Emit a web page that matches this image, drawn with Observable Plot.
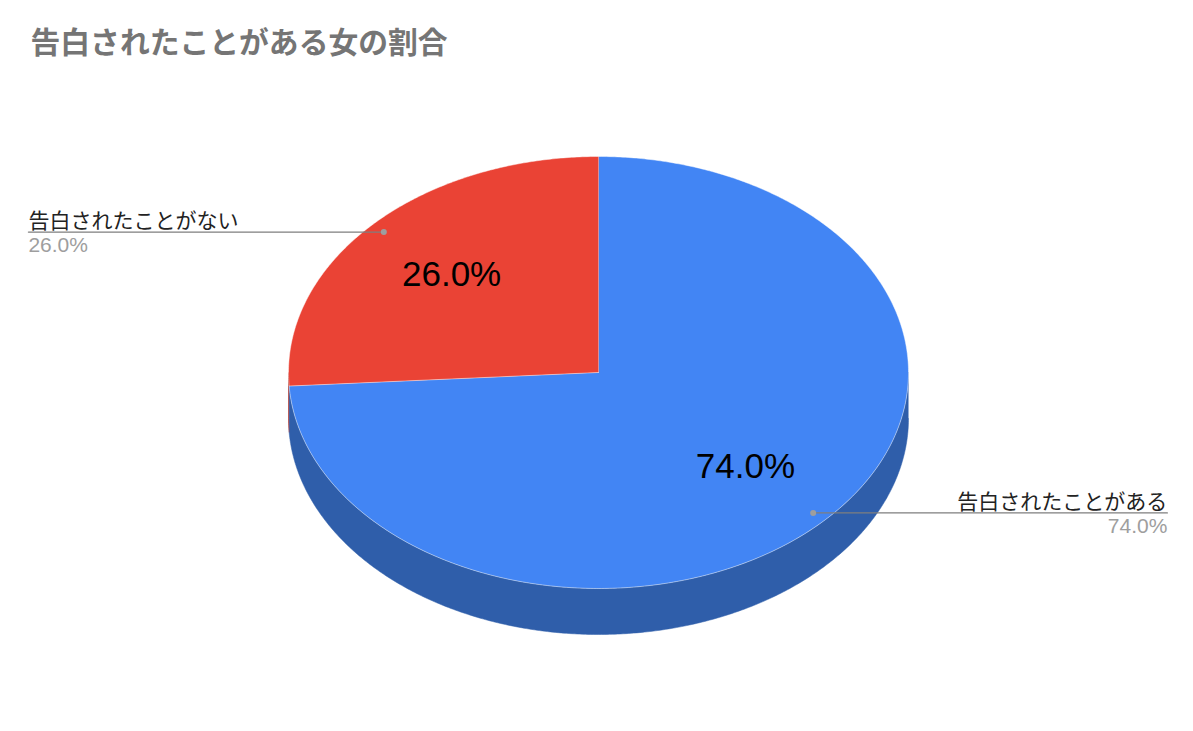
<!DOCTYPE html>
<html><head><meta charset="utf-8">
<script src="https://cdn.jsdelivr.net/npm/d3@7"></script>
<script src="https://cdn.jsdelivr.net/npm/@observablehq/plot@0.6"></script>
<style>body{margin:0;background:#fff;} #chart svg{display:block;}</style>
</head><body><div id="chart"></div>
<script>
const title = "告白されたことがある女の割合";
const categories = ["告白されたことがある", "告白されたことがない"];
const values = [74.0, 26.0];
const topColors = ["#4285f4", "#ea4335"];
const sideColors = ["#2f5eaa", "#a8302a"];

const FONT = "'Liberation Sans', Arial, 'Noto Sans CJK JP', sans-serif";
const depth = 0.213;          // pie thickness in y units
const step = Math.PI / 360;   // arc sampling
const total = d3.sum(values);

let acc = 0;
const slices = values.map((v, i) => {
  const a0 = acc / total * 2 * Math.PI;
  acc += v;
  const a1 = acc / total * 2 * Math.PI;
  return {i, name: categories[i], value: v, a0, a1, mid: (a0 + a1) / 2};
});
const px = (a, r = 1) => r * Math.sin(a);
const py = (a, r = 1) => r * Math.cos(a);
function arcPts(a0, a1) {
  const n = Math.max(2, Math.ceil((a1 - a0) / step));
  return d3.range(n + 1).map(k => a0 + (a1 - a0) * k / n);
}

const topPts = [], sidePts = [];
for (const s of slices) {
  topPts.push({z: s.i, x: 0, y: 0, c: topColors[s.i]});
  for (const a of arcPts(s.a0, s.a1)) topPts.push({z: s.i, x: px(a), y: py(a), c: topColors[s.i]});
  const b0 = Math.max(s.a0, Math.PI / 2), b1 = Math.min(s.a1, 3 * Math.PI / 2);
  if (b1 > b0) {
    const arc = arcPts(b0, b1);
    for (const a of arc) sidePts.push({z: s.i, x: px(a), y: py(a), c: sideColors[s.i]});
    for (const a of arc.slice().reverse()) sidePts.push({z: s.i, x: px(a), y: py(a) - depth, c: sideColors[s.i]});
  }
}

const labelEdge = [1.835, -1.839]; // outer label ends (x units)
const dots = slices.map(s => ({...s, x: px(s.mid, 0.95), y: py(s.mid, 0.95)}));
const leader = dots.flatMap(d => [{z: d.i, x: d.x, y: d.y}, {z: d.i, x: labelEdge[d.i], y: d.y}]);
const outer = dots.map(d => ({...d, ex: labelEdge[d.i]}));
const outerR = outer.filter(d => d.ex > 0), outerL = outer.filter(d => d.ex < 0);

const outerLabels = (data, anchor) => [
  Plot.text(data, {x: "ex", y: "y", text: "name", textAnchor: anchor, lineAnchor: "bottom", dy: -4, fontSize: 21, fill: "#222", fontFamily: FONT}),
  Plot.text(data, {x: "ex", y: "y", text: d => d.value.toFixed(1) + "%", textAnchor: anchor, lineAnchor: "top", dy: 5, fontSize: 21, fill: "#9e9e9e", fontFamily: FONT})
];

const chart = Plot.plot({
  width: 1193, height: 731,
  marginTop: 0, marginBottom: 0, marginLeft: 0, marginRight: 0,
  x: {domain: [-1, 1], range: [288, 908], axis: null},
  y: {domain: [-1, 1], range: [588, 156], axis: null},
  color: {type: "identity"},
  style: {fontFamily: FONT, background: "#fff"},
  marks: [
    Plot.line(sidePts, {x: "x", y: "y", z: "z", fill: "c", stroke: "c", strokeWidth: 0.5, curve: "linear"}),
    Plot.line(topPts, {x: "x", y: "y", z: "z", fill: "c", stroke: "#ffffff", strokeOpacity: 0.45, strokeWidth: 1, curve: "linear"}),
    Plot.text(slices, {x: d => px(d.mid, 0.65), y: d => py(d.mid, 0.65), dy: -2, text: d => d.value.toFixed(1) + "%", fontSize: 35, fill: "#000", fontFamily: FONT}),
    Plot.line(leader, {x: "x", y: "y", z: "z", stroke: "#7f7f7f", strokeWidth: 1.3}),
    Plot.dot(dots, {x: "x", y: "y", r: 3, fill: "#9e9e9e"}),
    ...outerLabels(outerR, "end"),
    ...outerLabels(outerL, "start"),
    Plot.text([title], {frameAnchor: "top-left", text: d => d, textAnchor: "start", lineAnchor: "middle", dx: 30, dy: 43, fontSize: 29.8, fontWeight: "bold", fill: "#757575", fontFamily: FONT})
  ]
});
document.getElementById("chart").appendChild(chart);
</script>
</body></html>
